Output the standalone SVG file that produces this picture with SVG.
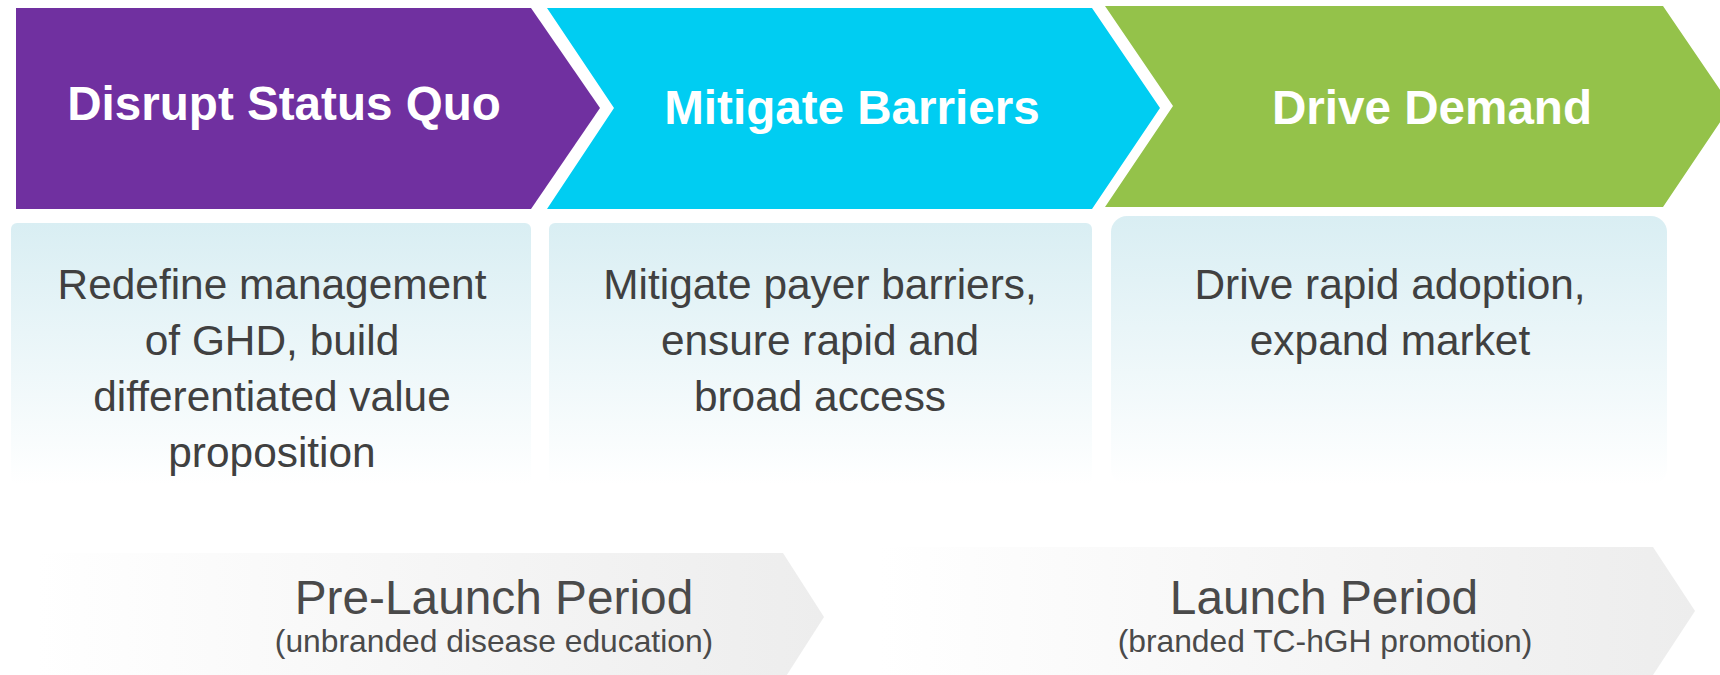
<svg xmlns="http://www.w3.org/2000/svg" width="1720" height="675" viewBox="0 0 1720 675">
<defs>
<linearGradient id="boxg" x1="0" y1="0" x2="0" y2="1">
<stop offset="0" stop-color="#D9EEF3"/>
<stop offset="1" stop-color="#FFFFFF"/>
</linearGradient>
<linearGradient id="greyg" x1="0" y1="0" x2="1" y2="0">
<stop offset="0" stop-color="#FFFFFF"/>
<stop offset="1" stop-color="#EDEDED"/>
</linearGradient>
<style>
.hdr{font-family:"Liberation Sans",Arial,sans-serif;font-weight:bold;font-size:47.6px;fill:#FFFFFF;text-anchor:middle}
.body{font-family:"Liberation Sans",Arial,sans-serif;font-size:42.4px;fill:#404040;text-anchor:middle}
.per{font-family:"Liberation Sans",Arial,sans-serif;font-size:47.8px;fill:#4A4A4A;text-anchor:middle}
.sub{font-family:"Liberation Sans",Arial,sans-serif;font-size:31.8px;fill:#4A4A4A;text-anchor:middle}
</style>
</defs>
<rect width="1720" height="675" fill="#FFFFFF"/>
<g id="node-disrupt">
<polygon points="16,8 531,8 600,108 531,209 16,209" fill="#7030A0"/>
<text class="hdr" x="284" y="120">Disrupt Status Quo</text>
</g>
<g id="node-mitigate">
<polygon points="547,8 1092,8 1160,108 1092,209 547,209 614,108" fill="#00CDF2"/>
<text class="hdr" x="852" y="124">Mitigate Barriers</text>
</g>
<g id="node-drive">
<polygon points="1105,6 1663,6 1731,106 1663,207 1105,207 1173,106" fill="#94C24A"/>
<text class="hdr" x="1432" y="124">Drive Demand</text>
</g>
<g id="box-disrupt">
<rect x="11" y="223" width="520" height="262" rx="6" fill="url(#boxg)"/>
<text class="body" x="272" y="299">Redefine management</text>
<text class="body" x="272" y="355">of GHD, build</text>
<text class="body" x="272" y="411">differentiated value</text>
<text class="body" x="272" y="467">proposition</text>
</g>
<g id="box-mitigate">
<rect x="549" y="223" width="543" height="262" rx="6" fill="url(#boxg)"/>
<text class="body" x="820" y="299">Mitigate payer barriers,</text>
<text class="body" x="820" y="355">ensure rapid and</text>
<text class="body" x="820" y="411">broad access</text>
</g>
<g id="box-drive">
<rect x="1111" y="216" width="556" height="269" rx="16" fill="url(#boxg)"/>
<text class="body" x="1390" y="299">Drive rapid adoption,</text>
<text class="body" x="1390" y="355">expand market</text>
</g>
<g id="node-prelaunch">
<polygon points="38,553 783,553 824,617 783,681 38,681" fill="url(#greyg)"/>
<text class="per" x="494" y="614">Pre-Launch Period</text>
<text class="sub" x="494" y="652">(unbranded disease education)</text>
</g>
<g id="node-launch">
<polygon points="880,547 1653,547 1695,611 1653,675 880,675" fill="url(#greyg)"/>
<text class="per" x="1324" y="614">Launch Period</text>
<text class="sub" x="1325" y="652">(branded TC-hGH promotion)</text>
</g>
<g id="connectors"/>
</svg>
